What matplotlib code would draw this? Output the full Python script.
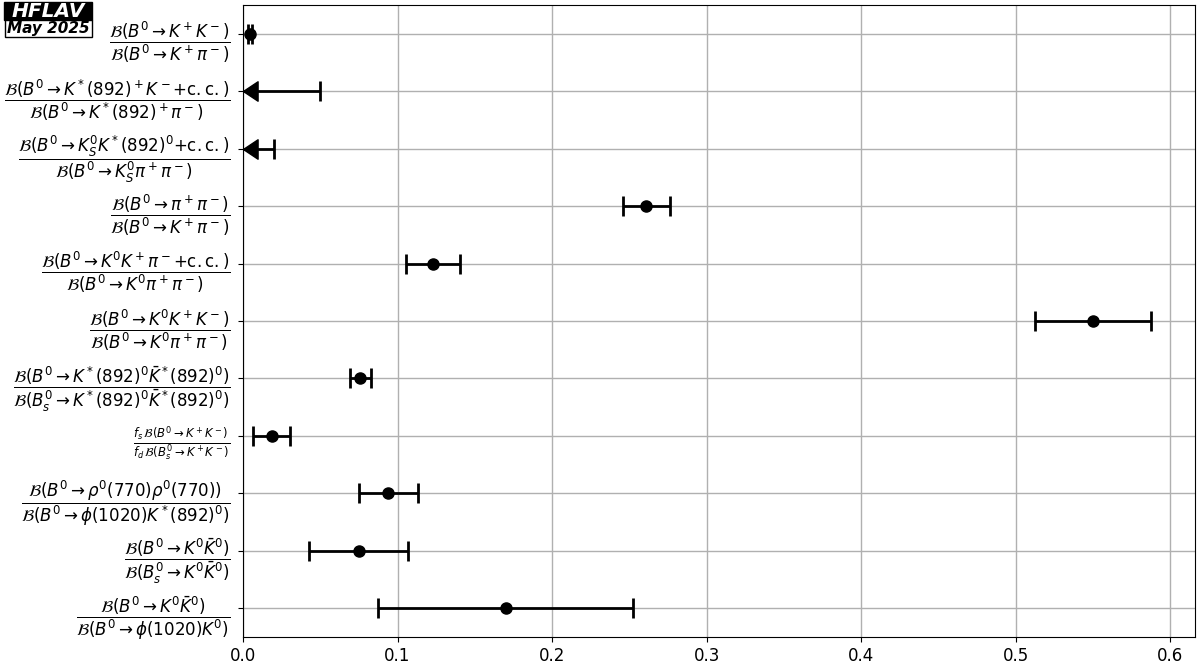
import numpy as np
import matplotlib
matplotlib.use("Agg")
import matplotlib.pyplot as plt
from matplotlib.patches import Rectangle

# ratio labels (top to bottom)
labels = [
    r"$\dfrac{\mathcal{B}(B^0 \to K^+K^-)}{\mathcal{B}(B^0 \to K^+\pi^-)}$",
    r"$\dfrac{\mathcal{B}(B^0 \to K^*(892)^+K^-\mathrm{+c.c.})}{\mathcal{B}(B^0 \to K^*(892)^+\pi^-)}$",
    r"$\dfrac{\mathcal{B}(B^0 \to K_S^0K^*(892)^0\mathrm{+c.c.})}{\mathcal{B}(B^0 \to K_S^0\pi^+\pi^-)}$",
    r"$\dfrac{\mathcal{B}(B^0 \to \pi^+\pi^-)}{\mathcal{B}(B^0 \to K^+\pi^-)}$",
    r"$\dfrac{\mathcal{B}(B^0 \to K^0K^+\pi^-\mathrm{+c.c.})}{\mathcal{B}(B^0 \to K^0\pi^+\pi^-)}$",
    r"$\dfrac{\mathcal{B}(B^0 \to K^0K^+K^-)}{\mathcal{B}(B^0 \to K^0\pi^+\pi^-)}$",
    r"$\dfrac{\mathcal{B}(B^0 \to K^*(892)^0\bar{K}^*(892)^0)}{\mathcal{B}(B_s^0 \to K^*(892)^0\bar{K}^*(892)^0)}$",
    r"$\frac{f_s\,\mathcal{B}(B^0 \to K^+K^-)}{f_d\,\mathcal{B}(B_s^0 \to K^+K^-)}$",
    r"$\dfrac{\mathcal{B}(B^0 \to \rho^0(770)\rho^0(770))}{\mathcal{B}(B^0 \to \phi(1020)K^*(892)^0)}$",
    r"$\dfrac{\mathcal{B}(B^0 \to K^0\bar{K}^0)}{\mathcal{B}(B_s^0 \to K^0\bar{K}^0)}$",
    r"$\dfrac{\mathcal{B}(B^0 \to K^0\bar{K}^0)}{\mathcal{B}(B^0 \to \phi(1020)K^0)}$",
]

# measured values (nan where only an upper limit exists)
values = [0.0045, np.nan, np.nan, 0.261, 0.123, 0.550, 0.076, 0.0185, 0.094, 0.075, 0.170]
errors = [0.0015, np.nan, np.nan, 0.015, 0.0175, 0.0375, 0.0066, 0.0118, 0.019, 0.032, 0.0825]
upper_limits = [np.nan, 0.050, 0.020, np.nan, np.nan, np.nan, np.nan, np.nan, np.nan, np.nan, np.nan]

fig = plt.figure(figsize=(12, 6.72), dpi=100)
ax = fig.add_axes([0.2025, 0.052, 0.7933, 0.9406])

ypos = np.arange(len(labels))
vals = np.array(values)
errs = np.array(errors)
ul = np.array(upper_limits)

m = ~np.isnan(vals)
ax.errorbar(vals[m], ypos[m], xerr=errs[m], fmt="o", color="black", ms=8,
            elinewidth=2, capsize=7, capthick=2, zorder=3)

# upper limits: line from zero to limit, cap at the limit, arrow at zero
arrow = [(0, 0), (1.5, 1), (1.5, -1), (0, 0)]
u = ~np.isnan(ul)
ax.hlines(ypos[u], 0, ul[u], color="black", lw=2, zorder=3)
ax.plot(ul[u], ypos[u], ls="none", marker="|", ms=14, mew=2, color="black", zorder=3)
ax.plot(np.zeros(u.sum()), ypos[u], ls="none", marker=arrow, ms=21, color="black",
        zorder=3, clip_on=False)

ax.set_yticks(ypos)
ax.set_yticklabels(labels, fontsize=12)
ax.tick_params(axis="y", pad=5.5)
ax.set_ylim(len(labels) - 0.5, -0.5)
ax.set_xlim(0, 0.616)
ax.set_xticks(np.arange(0, 0.61, 0.1))
ax.tick_params(axis="x", labelsize=12)
ax.grid(True, color="#b0b0b0", lw=1)
ax.set_axisbelow(True)

# HFLAV logo
fig.patches.append(Rectangle((0.0033, 0.9702), 0.0733, 0.0268, transform=fig.transFigure,
                             fc="black", ec="black", lw=1))
fig.patches.append(Rectangle((0.0042, 0.9449), 0.0724, 0.0253, transform=fig.transFigure,
                             fc="white", ec="black", lw=1))
fig.text(0.04, 0.9836, "HFLAV", fontsize=14.5, fontweight="bold", style="italic",
         color="white", ha="center", va="center")
fig.text(0.0404, 0.9575, "May 2025", fontsize=11, fontweight="bold", style="italic",
         color="black", ha="center", va="center")

fig.savefig("out.png", dpi=100)
